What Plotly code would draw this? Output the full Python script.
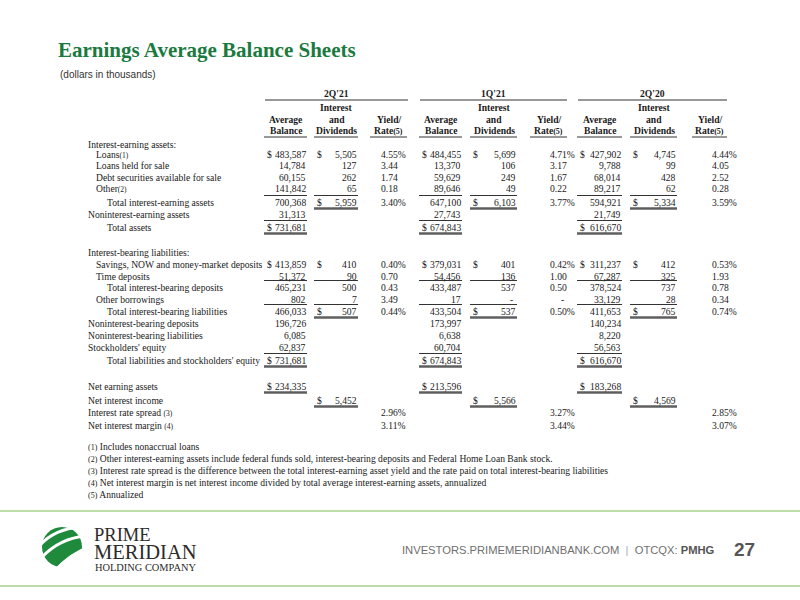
import plotly.graph_objects as go

SERIF = "Liberation Serif, Times New Roman, serif"
NARROW = "Liberation Sans Narrow, Arial Narrow, Liberation Sans, sans-serif"
GREEN = "#1b7a3e"
INK = "#1a1a1a"
SMALL = "<span style='font-size:7.5px'>%s</span>"

quarters = ["2Q'21", "1Q'21", "2Q'20"]

row_labels = [
    "Interest-earning assets:",
    "Loans" + SMALL % "(1)",
    "Loans held for sale",
    "Debt securities available for sale",
    "Other" + SMALL % "(2)",
    "Total interest-earning assets",
    "Noninterest-earning assets",
    "Total assets",
    "Interest-bearing liabilities:",
    "Savings, NOW and money-market deposits",
    "Time deposits",
    "Total interest-bearing deposits",
    "Other borrowings",
    "Total interest-bearing liabilities",
    "Noninterest-bearing deposits",
    "Noninterest-bearing liabilities",
    "Stockholders' equity",
    "Total liabilities and stockholders' equity",
    "Net earning assets",
    "Net interest income",
    "Interest rate spread " + SMALL % "(3)",
    "Net interest margin " + SMALL % "(4)",
]
row_indent = [0, 1, 1, 1, 1, 2, 0, 2, 0, 1, 1, 2, 1, 2, 0, 0, 0, 2, 0, 0, 0, 0]

bal_2q21 = [None, 483587, 14784, 60155, 141842, 700368, 31313, 731681, None, 413859, 51372,
            465231, 802, 466033, 196726, 6085, 62837, 731681, 234335, None, None, None]
int_2q21 = [None, 5505, 127, 262, 65, 5959, None, None, None, 410, 90,
            500, 7, 507, None, None, None, None, None, 5452, None, None]
yld_2q21 = [None, 4.55, 3.44, 1.74, 0.18, 3.40, None, None, None, 0.40, 0.70,
            0.43, 3.49, 0.44, None, None, None, None, None, None, 2.96, 3.11]

bal_1q21 = [None, 484455, 13370, 59629, 89646, 647100, 27743, 674843, None, 379031, 54456,
            433487, 17, 433504, 173997, 6638, 60704, 674843, 213596, None, None, None]
int_1q21 = [None, 5699, 106, 249, 49, 6103, None, None, None, 401, 136,
            537, "-", 537, None, None, None, None, None, 5566, None, None]
yld_1q21 = [None, 4.71, 3.17, 1.67, 0.22, 3.77, None, None, None, 0.42, 1.00,
            0.50, "-", 0.50, None, None, None, None, None, None, 3.27, 3.44]

bal_2q20 = [None, 427902, 9788, 68014, 89217, 594921, 21749, 616670, None, 311237, 67287,
            378524, 33129, 411653, 140234, 8220, 56563, 616670, 183268, None, None, None]
int_2q20 = [None, 4745, 99, 428, 62, 5334, None, None, None, 412, 325,
            737, 28, 765, None, None, None, None, None, 4569, None, None]
yld_2q20 = [None, 4.44, 4.05, 2.52, 0.28, 3.59, None, None, None, 0.53, 1.93,
            0.78, 0.34, 0.74, None, None, None, None, None, None, 2.85, 3.07]

balances = [bal_2q21, bal_1q21, bal_2q20]
interest = [int_2q21, int_1q21, int_2q20]
yields = [yld_2q21, yld_1q21, yld_2q20]

# rows that carry a $ sign / % sign
dollar_bal_rows = [1, 7, 9, 17, 18]
dollar_int_rows = [1, 5, 9, 13, 19]
pct_rows = [1, 5, 9, 13, 20, 21]

# rules: single line above a row, double line below a row ("b" balance, "i" interest)
single_above = [(5, "bi"), (7, "b"), (11, "bi"), (13, "bi"), (17, "b")]
double_below = [(5, "i"), (7, "b"), (13, "i"), (17, "b"), (18, "b"), (19, "i")]

footnotes = [
    ("(1)", "Includes nonaccrual loans"),
    ("(2)", "Other interest-earning assets include federal funds sold, interest-bearing deposits and Federal Home Loan Bank stock."),
    ("(3)", "Interest rate spread is the difference between the total interest-earning asset yield and the rate paid on total interest-bearing liabilities"),
    ("(4)", "Net interest margin is net interest income divided by total average interest-earning assets, annualized"),
    ("(5)", "Annualized"),
]

# layout of the table (pixels)
row_y = [144, 154, 165, 177, 188, 202, 214, 227, 252, 264, 276, 287, 299, 311,
         323, 335, 347, 360, 386, 400, 412, 425]
indent_x = [87, 95, 106]
cols = [
    dict(bd=266, br=307, idl=316, ir=358, yl=380, ys=370, ye=407, g0=265, g1=408),
    dict(bd=421, br=462, idl=472, ir=517, yl=549, ys=530, ye=567, g0=420, g1=567),
    dict(bd=579, br=622, idl=632, ir=677, yl=711, ys=692, ye=727, g0=578, g1=727),
]
FS = 9.6

fig = go.Figure()
fig.add_trace(go.Scatter(x=[0], y=[0], mode="markers", marker=dict(opacity=0),
                         hoverinfo="skip", showlegend=False))


def txt(x, y, text, anchor="left", size=FS, color=INK, family=SERIF):
    fig.add_annotation(x=x, y=y, text=text, xanchor=anchor, yanchor="middle",
                       showarrow=False, borderpad=0,
                       font=dict(family=family, size=size, color=color))


def hline(x0, x1, y, width=1, color="#333333"):
    fig.add_shape(type="line", x0=x0, x1=x1, y0=y, y1=y,
                  line=dict(color=color, width=width))


# title
txt(57, 50, "<b>Earnings Average Balance Sheets</b>", size=21, color=GREEN, family=SERIF)
txt(59, 74, "(dollars in thousands)", size=10, color="#333333", family=NARROW)

# column headers
for q, c in zip(quarters, cols):
    txt((c["g0"] + c["g1"]) / 2, 93, "<b>%s</b>" % q, anchor="center")
    hline(c["g0"], c["g1"], 100)
    bc = (c["bd"] - 1 + c["br"]) / 2
    ic = (c["idl"] - 1 + c["ir"]) / 2
    yc = (c["ys"] + c["ye"]) / 2
    txt(ic, 107, "<b>Interest</b>", anchor="center")
    txt(bc, 119, "<b>Average</b>", anchor="center")
    txt(ic, 119, "<b>and</b>", anchor="center")
    txt(yc, 119, "<b>Yield/</b>", anchor="center")
    txt(bc, 130, "<b>Balance</b>", anchor="center")
    txt(ic, 130, "<b>Dividends</b>", anchor="center")
    txt(yc, 130, "<b>Rate<span style='font-size:8px'>(5)</span></b>", anchor="center")
    hline(c["bd"] - 2, c["br"], 137)
    hline(c["idl"] - 2, c["ir"], 137)
    hline(c["ys"], c["ye"], 137)

# row labels
for i, lab in enumerate(row_labels):
    txt(indent_x[row_indent[i]], row_y[i], lab)

# values
for qi, c in enumerate(cols):
    for i in range(len(row_labels)):
        y = row_y[i]
        b = balances[qi][i]
        if b is not None:
            txt(c["br"], y, "{:,}".format(b), anchor="right")
            if i in dollar_bal_rows:
                txt(c["bd"], y, "$")
        v = interest[qi][i]
        if v is not None:
            if v == "-":
                txt(c["ir"] - 3, y, "-", anchor="right")
            else:
                txt(c["ir"], y, "{:,}".format(v), anchor="right")
            if i in dollar_int_rows:
                txt(c["idl"], y, "$")
        r = yields[qi][i]
        if r is not None:
            if r == "-":
                txt(c["yl"] + 11, y, "-")
            else:
                s = "%.2f" % r
                if i in pct_rows:
                    s += "%"
                txt(c["yl"], y, s)

# rules
for r, kinds in single_above:
    y = row_y[r] - 6.5
    for c in cols:
        if "b" in kinds:
            hline(c["bd"] - 2, c["br"], y)
        if "i" in kinds:
            hline(c["idl"] - 2, c["ir"], y)
for r, kinds in double_below:
    y = row_y[r] + 6.5
    for c in cols:
        if "b" in kinds:
            hline(c["bd"] - 2, c["br"], y, width=2.6, color="#5f5f5f")
        if "i" in kinds:
            hline(c["idl"] - 2, c["ir"], y, width=2.6, color="#5f5f5f")

# footnotes
for k, (mark, note) in enumerate(footnotes):
    txt(87, 446 + k * 12.2, "<span style='font-size:8px'>%s</span> %s" % (mark, note))

# footer band
hline(0, 800, 511, width=1.6, color="#a6d08e")
hline(0, 800, 586, width=1.6, color="#a6d08e")

# logo mark
fig.add_shape(type="circle", x0=42, x1=82, y0=527, y1=567,
              fillcolor="#1f8a3c", line=dict(width=0))
for p in ["M 40,545 Q 55,529 80,527", "M 41,558 Q 60,538 86,536"]:
    fig.add_shape(type="path", path=p, line=dict(color="white", width=3))
fig.add_shape(type="path", path="M 52,572 Q 70,552 90,546 L 92,576 Z",
              fillcolor="white", line=dict(color="white", width=1))
txt(93, 535, "PRIME", size=18.5, color="#2b2b2b")
txt(93, 552, "MERIDIAN", size=20.5, color="#2b2b2b")
txt(94, 567, "HOLDING COMPANY", size=10.4, color="#2b2b2b")

txt(716, 550, "INVESTORS.PRIMEMERIDIANBANK.COM  <span style='color:#aaaaaa'>|</span>  OTCQX: "
    "<b><span style='color:#555555'>PMHG</span></b>",
    anchor="right", size=11.2, color="#6f6f6f", family=NARROW)
txt(733, 549, "<b>27</b>", size=19, color="#555555", family=NARROW)

fig.update_layout(
    width=800, height=600,
    margin=dict(l=0, r=0, t=0, b=0),
    paper_bgcolor="white", plot_bgcolor="white",
    showlegend=False,
    xaxis=dict(range=[0, 800], visible=False, fixedrange=True),
    yaxis=dict(range=[600, 0], visible=False, fixedrange=True),
)

# the page body has a default margin; drop it so the figure sits at the window corner
fig.write_html("out.html", config={"displayModeBar": False},
               post_script="document.body.style.margin = '0px';")
